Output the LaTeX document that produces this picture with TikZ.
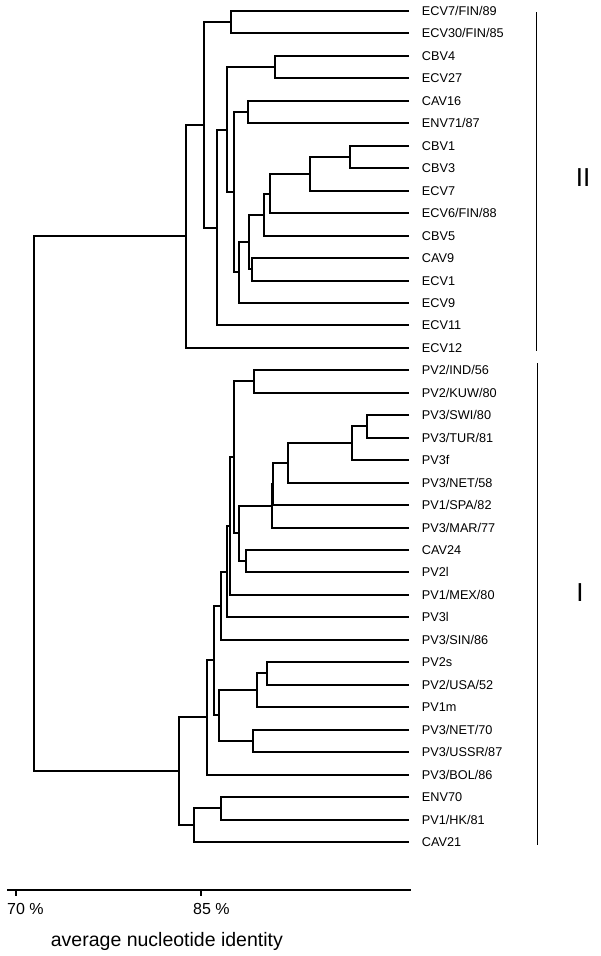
\documentclass[tikz,border=0pt]{standalone}
\usepackage{fontspec}
\setmainfont{Liberation Sans}
\usetikzlibrary{positioning}

\begin{document}
\begin{tikzpicture}[
  x=1pt, y=-1pt,
  leaf/.style={
    anchor=west, inner xsep=12.7pt, inner ysep=0pt,
    text height=9.1pt, text depth=0pt,
    font=\fontsize{12.7}{15}\selectfont
  },
  branch/.style={line width=1.6pt, black},
  group/.style={line width=1pt, black},
  grouplab/.style={inner sep=0pt, text height=18.6pt, text depth=0pt,
    font=\fontsize{26}{30}\selectfont},
  ticklab/.style={anchor=west, inner sep=0pt, text height=11.5pt, text depth=0pt,
    font=\fontsize{16}{19}\selectfont}
]
  \useasboundingbox (0,0) rectangle (600,956);

  % leaves
  \node[leaf] (l0)  at (409,11)  {ECV7/FIN/89};
  \node[leaf] (l1)  at (409,33)  {ECV30/FIN/85};
  \node[leaf] (l2)  at (409,56)  {CBV4};
  \node[leaf] (l3)  at (409,78)  {ECV27};
  \node[leaf] (l4)  at (409,101) {CAV16};
  \node[leaf] (l5)  at (409,123) {ENV71/87};
  \node[leaf] (l6)  at (409,146) {CBV1};
  \node[leaf] (l7)  at (409,168) {CBV3};
  \node[leaf] (l8)  at (409,191) {ECV7};
  \node[leaf] (l9)  at (409,213) {ECV6/FIN/88};
  \node[leaf] (l10) at (409,236) {CBV5};
  \node[leaf] (l11) at (409,258) {CAV9};
  \node[leaf] (l12) at (409,281) {ECV1};
  \node[leaf] (l13) at (409,303) {ECV9};
  \node[leaf] (l14) at (409,325) {ECV11};
  \node[leaf] (l15) at (409,348) {ECV12};
  \node[leaf] (l16) at (409,370) {PV2/IND/56};
  \node[leaf] (l17) at (409,393) {PV2/KUW/80};
  \node[leaf] (l18) at (409,415) {PV3/SWI/80};
  \node[leaf] (l19) at (409,438) {PV3/TUR/81};
  \node[leaf] (l20) at (409,460) {PV3f};
  \node[leaf] (l21) at (409,483) {PV3/NET/58};
  \node[leaf] (l22) at (409,505) {PV1/SPA/82};
  \node[leaf] (l23) at (409,528) {PV3/MAR/77};
  \node[leaf] (l24) at (409,550) {CAV24};
  \node[leaf] (l25) at (409,572) {PV2l};
  \node[leaf] (l26) at (409,595) {PV1/MEX/80};
  \node[leaf] (l27) at (409,617) {PV3l};
  \node[leaf] (l28) at (409,640) {PV3/SIN/86};
  \node[leaf] (l29) at (409,662) {PV2s};
  \node[leaf] (l30) at (409,685) {PV2/USA/52};
  \node[leaf] (l31) at (409,707) {PV1m};
  \node[leaf] (l32) at (409,730) {PV3/NET/70};
  \node[leaf] (l33) at (409,752) {PV3/USSR/87};
  \node[leaf] (l34) at (409,775) {PV3/BOL/86};
  \node[leaf] (l35) at (409,797) {ENV70};
  \node[leaf] (l36) at (409,820) {PV1/HK/81};
  \node[leaf] (l37) at (409,842) {CAV21};

  % cluster II joins
  \coordinate (a1)  at (231,22);
  \coordinate (a2)  at (275,67);
  \coordinate (a3)  at (248,112);
  \coordinate (a4)  at (350,157);
  \coordinate (a5)  at (310,174);
  \coordinate (a6)  at (270,194);
  \coordinate (a7)  at (264,215);
  \coordinate (a8)  at (252,269);
  \coordinate (a9)  at (249,242);
  \coordinate (a10) at (239,272);
  \coordinate (a11) at (234,192);
  \coordinate (a12) at (227,130);
  \coordinate (a13) at (217,228);
  \coordinate (a14) at (204,125);
  \coordinate (a15) at (186,236);

  % cluster I joins
  \coordinate (b1)  at (254,381);
  \coordinate (b2)  at (367,426);
  \coordinate (b3)  at (352,443);
  \coordinate (b4)  at (288,463);
  \coordinate (b5)  at (273,484);
  \coordinate (b6)  at (272,506);
  \coordinate (b7)  at (246,561);
  \coordinate (b8)  at (239,533);
  \coordinate (b9)  at (234,457);
  \coordinate (b10) at (230,526);
  \coordinate (b11) at (227,572);
  \coordinate (b12) at (221,606);
  \coordinate (b13) at (267,673);
  \coordinate (b14) at (257,690);
  \coordinate (b15) at (253,741);
  \coordinate (b16) at (219,715);
  \coordinate (b17) at (214,660);
  \coordinate (b18) at (207,717);
  \coordinate (b19) at (221,808);
  \coordinate (b20) at (194,825);
  \coordinate (b21) at (179,771);

  \coordinate (root) at (34,503);

  % cluster II
  \draw[branch] (l0.west) -| (a1) |- (l1.west);
  \draw[branch] (l2.west) -| (a2) |- (l3.west);
  \draw[branch] (l4.west) -| (a3) |- (l5.west);
  \draw[branch] (l6.west) -| (a4) |- (l7.west);
  \draw[branch] (a4) -| (a5) |- (l8.west);
  \draw[branch] (a5) -| (a6) |- (l9.west);
  \draw[branch] (a6) -| (a7) |- (l10.west);
  \draw[branch] (l11.west) -| (a8) |- (l12.west);
  \draw[branch] (a7) -| (a9) |- (a8);
  \draw[branch] (a9) -| (a10) |- (l13.west);
  \draw[branch] (a3) -| (a11) |- (a10);
  \draw[branch] (a2) -| (a12) |- (a11);
  \draw[branch] (a12) -| (a13) |- (l14.west);
  \draw[branch] (a1) -| (a14) |- (a13);
  \draw[branch] (a14) -| (a15) |- (l15.west);

  % cluster I
  \draw[branch] (l16.west) -| (b1) |- (l17.west);
  \draw[branch] (l18.west) -| (b2) |- (l19.west);
  \draw[branch] (b2) -| (b3) |- (l20.west);
  \draw[branch] (b3) -| (b4) |- (l21.west);
  \draw[branch] (b4) -| (b5) |- (l22.west);
  \draw[branch] (b5) -| (b6) |- (l23.west);
  \draw[branch] (l24.west) -| (b7) |- (l25.west);
  \draw[branch] (b6) -| (b8) |- (b7);
  \draw[branch] (b1) -| (b9) |- (b8);
  \draw[branch] (b9) -| (b10) |- (l26.west);
  \draw[branch] (b10) -| (b11) |- (l27.west);
  \draw[branch] (b11) -| (b12) |- (l28.west);
  \draw[branch] (l29.west) -| (b13) |- (l30.west);
  \draw[branch] (b13) -| (b14) |- (l31.west);
  \draw[branch] (l32.west) -| (b15) |- (l33.west);
  \draw[branch] (b14) -| (b16) |- (b15);
  \draw[branch] (b12) -| (b17) |- (b16);
  \draw[branch] (b17) -| (b18) |- (l34.west);
  \draw[branch] (l35.west) -| (b19) |- (l36.west);
  \draw[branch] (b19) -| (b20) |- (l37.west);
  \draw[branch] (b18) -| (b21) |- (b20);

  \draw[branch] (a15) -| (root) |- (b21);

  % groups
  \coordinate (g2top) at (536.5,12);
  \coordinate (g2bot) at (536.5,351);
  \coordinate (g1top) at (537.5,363);
  \coordinate (g1bot) at (537.5,845);
  \draw[group] (g2top) -- (g2bot);
  \draw[group] (g1top) -- (g1bot);
  \node[grouplab] (g2) at (583,176.7) {II};
  \node[grouplab] (g1) at (580,591.7) {I};

  % scale
  \coordinate (ax0) at (7,890);
  \coordinate (ax1) at (411,890);
  \coordinate (t70) at (16,890);
  \coordinate (t85) at (201,890);
  \draw[branch] (ax0) -- (ax1);
  \draw[branch] (t70) -- ++(0,6);
  \draw[branch] (t85) -- ++(0,6);
  \node[ticklab] (n70) at (7,909) {70 \%};
  \node[ticklab] (n85) at (193,909) {85 \%};
  \node[anchor=base west, inner sep=0pt, font=\fontsize{19.5}{23}\selectfont]
    (xlab) at (50.7,946) {average nucleotide identity};
\end{tikzpicture}
\end{document}
